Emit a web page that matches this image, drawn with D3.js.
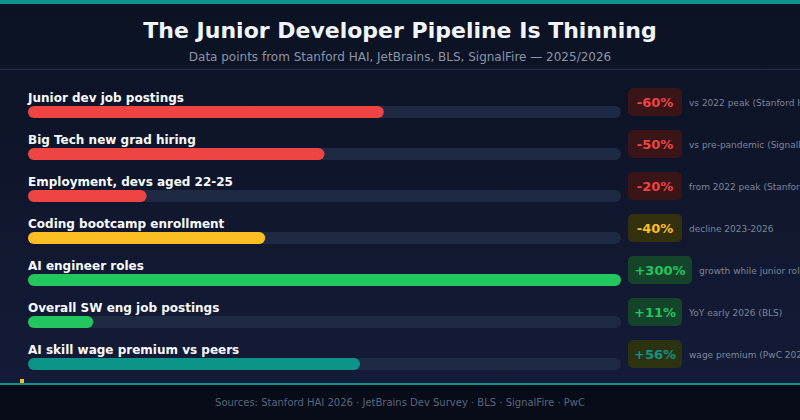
<!DOCTYPE html>
<html><head><meta charset="utf-8">
<script src="https://cdn.jsdelivr.net/npm/d3@7"></script>
<style>body{margin:0;background:#0b1222}svg{display:block;font-family:"DejaVu Sans",sans-serif}</style>
</head><body><svg id="c" width="800" height="420"></svg>
<script>
// data
var labels = ["Junior dev job postings","Big Tech new grad hiring","Employment, devs aged 22-25","Coding bootcamp enrollment","AI engineer roles","Overall SW eng job postings","AI skill wage premium vs peers"];
var values = [-60,-50,-20,-40,300,11,56];
var notes = ["vs 2022 peak (Stanford HAI)","vs pre-pandemic (SignalFire)","from 2022 peak (Stanford HAI)","decline 2023-2026","growth while junior roles shrink","YoY early 2026 (BLS)","wage premium (PwC 2025)"];
var barColors = ["#ef4444","#ef4444","#ef4444","#fbbf24","#22c55e","#22c55e","#0d9488"];
var badgeFill = ["#3a1518","#3a1518","#3a1518","#33300e","#14452a","#14452a","#2d3210"];
var badgeText = ["#ef4444","#ef4444","#ef4444","#fbbf24","#22c55e","#22c55e","#0d9488"];

var svg = d3.select("#c");
var defs = svg.append("defs");
var g = defs.append("linearGradient").attr("id","bg").attr("x1",0).attr("y1",0).attr("x2",0).attr("y2",1);
g.append("stop").attr("offset","0%").attr("stop-color","#0b1222");
g.append("stop").attr("offset","100%").attr("stop-color","#151c3a");
svg.append("rect").attr("width",800).attr("height",420).attr("fill","url(#bg)");
svg.append("rect").attr("width",800).attr("height",4).attr("fill","#0d9488");
svg.append("text").attr("x",400).attr("y",38).attr("text-anchor","middle").attr("fill","#f1f5f9")
  .attr("font-size",22).attr("font-weight","bold").text("The Junior Developer Pipeline Is Thinning");
svg.append("text").attr("x",400).attr("y",61).attr("text-anchor","middle").attr("fill","#8b95a7")
  .attr("font-size",12).text("Data points from Stanford HAI, JetBrains, BLS, SignalFire \u2014 2025/2026");
svg.append("line").attr("x1",0).attr("x2",800).attr("y1",69.5).attr("y2",69.5).attr("stroke","#1e2a44").attr("stroke-width",1.5);

var x = d3.scaleLinear().domain([0,100]).range([28,621]).clamp(true);
var y = d3.scaleBand().domain(d3.range(labels.length)).range([84,378]);

var row = svg.selectAll("g.row").data(labels).join("g").attr("class","row")
  .attr("transform",function(d,i){return "translate(0,"+y(i)+")";});
row.append("text").attr("x",28).attr("y",18).attr("fill","#f8fafc").attr("font-size",12).attr("font-weight","bold").text(function(d){return d;});
row.append("rect").attr("x",28).attr("y",22).attr("height",12).attr("rx",6).attr("width",x(100)-28).attr("fill","#1e2a44");
row.append("rect").attr("x",28).attr("y",22).attr("height",12).attr("rx",6)
  .attr("width",function(d,i){return x(Math.abs(values[i]))-28;}).attr("fill",function(d,i){return barColors[i];});
function fmt(v){return (v>0?"+":"")+v+"%";}
row.each(function(d,i){
  var r = d3.select(this);
  var t = fmt(values[i]);
  var w = t.length*10+14;
  r.append("rect").attr("x",628).attr("y",4).attr("width",w).attr("height",28).attr("rx",5).attr("fill",badgeFill[i]);
  r.append("text").attr("x",628+w/2).attr("y",23).attr("text-anchor","middle").attr("fill",badgeText[i])
    .attr("font-size",13).attr("font-weight","bold").text(t);
  r.append("text").attr("x",628+w+7).attr("y",22).attr("fill","#7c8698").attr("font-size",9).text(notes[i]);
});

svg.append("rect").attr("x",20).attr("y",379).attr("width",4).attr("height",5).attr("fill","#fbbf24");
svg.append("rect").attr("y",384).attr("width",800).attr("height",36).attr("fill","#080c18");
svg.append("rect").attr("y",383).attr("width",800).attr("height",2).attr("fill","#0d9488");
svg.append("text").attr("x",400).attr("y",406).attr("text-anchor","middle").attr("fill","#5b6478").attr("font-size",10)
  .text("Sources: Stanford HAI 2026 \u00b7 JetBrains Dev Survey \u00b7 BLS \u00b7 SignalFire \u00b7 PwC");
</script></body></html>
